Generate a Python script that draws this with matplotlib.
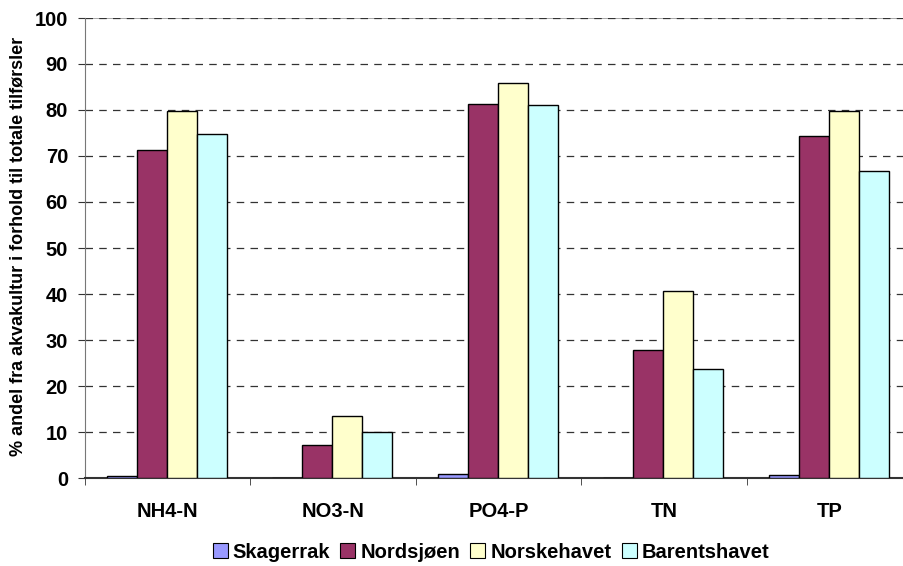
import numpy as np
import matplotlib.pyplot as plt
from matplotlib.patches import Patch

categories = ["NH4-N", "NO3-N", "PO4-P", "TN", "TP"]
series_names = ["Skagerrak", "Nordsjøen", "Norskehavet", "Barentshavet"]
skagerrak = [0.4, 0.0, 0.9, 0.1, 0.6]
nordsjoen = [71.3, 7.1, 81.3, 27.9, 74.3]
norskehavet = [79.7, 13.5, 85.9, 40.6, 79.8]
barentshavet = [74.8, 10.0, 81.0, 23.8, 66.7]
y_ticks = [0, 10, 20, 30, 40, 50, 60, 70, 80, 90, 100]

COLORS = ["#9999FF", "#993366", "#FFFFCC", "#CCFFFF"]

plt.rcParams.update({
    "font.family": ["Liberation Sans", "DejaVu Sans"],
    "font.weight": "bold",
})

fig = plt.figure(figsize=(9.04, 5.66), dpi=100)
ax = fig.add_axes([84.7 / 904, 88 / 566, 827.5 / 904, 460 / 566])

series = [skagerrak, nordsjoen, norskehavet, barentshavet]
bar_w = 30 / 165.5
offset = 22 / 165.5
x = np.arange(len(categories))
for k, vals in enumerate(series):
    ax.bar(x + offset + k * bar_w, vals, width=bar_w, align="edge",
           color=COLORS[k], edgecolor="black", linewidth=1.0, zorder=3)

ax.set_xlim(0, len(categories))
ax.set_ylim(0, 100)
ax.set_yticks(y_ticks)
ax.set_yticklabels([str(v) for v in y_ticks], fontsize=14.5, fontweight="bold")
ax.set_xticks(x + 0.5)
ax.set_xticklabels(categories, fontsize=14.5, fontweight="bold")
ax.set_xticks(np.arange(len(categories) + 1), minor=True)
ax.tick_params(axis="x", which="major", length=0, pad=17)
ax.tick_params(axis="x", which="minor", length=5, direction="out", color="#333333")
ax.tick_params(axis="y", length=5, direction="out", color="#333333", pad=7)

ax.yaxis.grid(True, linestyle=(0, (6, 5)), color="#333333", linewidth=0.9, zorder=0)
ax.spines["right"].set_visible(False)
ax.spines["top"].set_visible(False)
ax.spines["left"].set_color("#777777")
ax.spines["bottom"].set_color("#333333")
ax.spines["bottom"].set_linewidth(1.5)
ax.axhline(100, color="#999999", linewidth=1.2, zorder=1)

fig.text(18 / 904, 1 - 246 / 566,
         "% andel fra akvakultur i forhold til totale tilførsler",
         rotation=90, ha="center", va="center", fontsize=13, fontweight="bold")

handles = [Patch(facecolor=c, edgecolor="black", linewidth=0.8) for c in COLORS]
fig.legend(handles, series_names, loc="center", bbox_to_anchor=(491 / 904, 1 - 552 / 566),
           ncol=4, frameon=False, handlelength=0.75, handleheight=0.75,
           handletextpad=0.25, columnspacing=0.5, prop={"weight": "bold", "size": 14.5})

plt.savefig("out.png", dpi=100)
plt.close()
